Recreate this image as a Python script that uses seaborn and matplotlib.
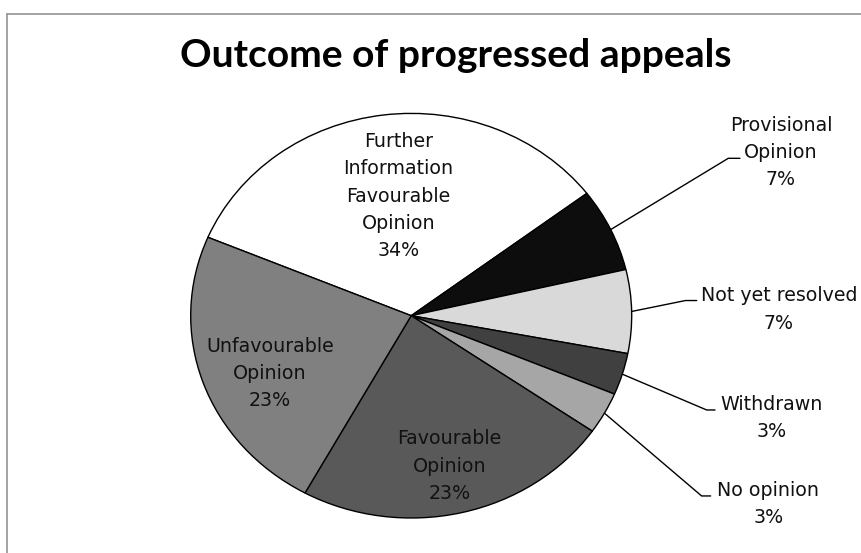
import matplotlib
matplotlib.use("Agg")
import matplotlib.pyplot as plt
import seaborn as sns
import numpy as np
from matplotlib.lines import Line2D

# ---- data ----
categories = ["Further\nInformation\nFavourable\nOpinion", "Provisional\nOpinion",
              "Not yet resolved", "Withdrawn", "No opinion",
              "Favourable\nOpinion", "Unfavourable\nOpinion"]
counts = [10, 2, 2, 1, 1, 7, 7]
pct_labels = ["34%", "7%", "7%", "3%", "3%", "23%", "23%"]
title = "Outcome of progressed appeals"

# ---- styles / layout ----
colors = ["#ffffff", "#0d0d0d", "#d9d9d9", "#404040", "#a6a6a6", "#595959", "#808080"]
inside_pos = {0: (-0.058, 0.591), 5: (0.173, -0.743), 6: (-0.640, -0.285)}
outside_pos = {
    1: dict(text=(1.677, 0.806), elbow=(1.438, 0.778), end=1.491),
    2: dict(text=(1.668, 0.031), elbow=(1.244, 0.075), end=1.295),
    3: dict(text=(1.636, -0.507), elbow=(1.340, -0.466), end=1.378),
    4: dict(text=(1.619, -0.929), elbow=(1.317, -0.891), end=1.358),
}

sns.set_theme(style="white")
plt.rcParams['font.family'] = ['DejaVu Sans']

W, H = 862, 553
fig = plt.figure(figsize=(W / 100, H / 100), dpi=100)
fig.patch.set_facecolor('white')
ax = fig.add_axes([0, 0, 1, 1])
cx, cy, rx, ry = 411.2, 315.7, 220.5, 202.3

wedges, _ = ax.pie(counts, colors=colors, startangle=157.2, counterclock=False,
                   radius=1, wedgeprops=dict(edgecolor='black', linewidth=1.0))
ax.set_aspect('auto')
ax.set_xlim(-cx / rx, (W - cx) / rx)
ax.set_ylim((cy - H) / ry, cy / ry)
ax.axis('off')

fs = 13.7
lsp = 1.55
for i, (x, y) in inside_pos.items():
    ax.text(x, y, categories[i] + "\n" + pct_labels[i], ha='center', va='center',
            multialignment='center', fontsize=fs, linespacing=lsp, color='#111111')

for i, d in outside_pos.items():
    w = wedges[i]
    mid = np.deg2rad((w.theta1 + w.theta2) / 2)
    sx, sy = np.cos(mid), np.sin(mid)
    ex, ey = d['elbow']
    ax.plot([sx, ex, d['end']], [sy, ey, ey], color='black', lw=1.0,
            solid_joinstyle='miter')
    tx, ty = d['text']
    ax.text(tx, ty, categories[i] + "\n" + pct_labels[i], ha='center', va='center',
            multialignment='center', fontsize=fs, linespacing=lsp, color='#111111')

# title fitted to its measured width
t = fig.text(455.8 / W, 1 - 66.7 / H, title, ha='center', va='baseline',
             fontsize=26, fontweight='bold', family=['Lato', 'DejaVu Sans'], color='black')
r = fig.canvas.get_renderer()
wpx = t.get_window_extent(r).width
t.set_fontsize(26 * 552 / wpx)

# chart-area frame (left and top edges visible)
fc = '#8a8a8a'
fig.add_artist(Line2D([7.5 / W, 7.5 / W], [0, 1 - 13.5 / H], transform=fig.transFigure,
                      color=fc, lw=1.1))
fig.add_artist(Line2D([7.5 / W, 1], [1 - 13.5 / H, 1 - 13.5 / H], transform=fig.transFigure,
                      color=fc, lw=1.1))

fig.savefig("out.png", dpi=100, facecolor='white')
